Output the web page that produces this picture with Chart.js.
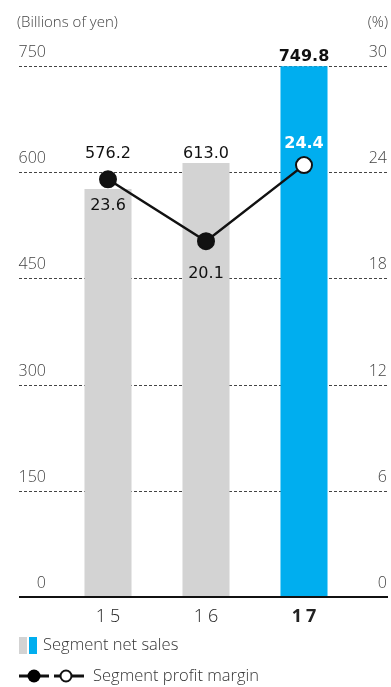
<!DOCTYPE html>
<html>
<head>
<meta charset="utf-8">
<script src="https://cdn.jsdelivr.net/npm/chart.js@4"></script>
<style>
html,body{margin:0;padding:0;background:#fff;}
#wrap{position:relative;width:391px;height:687px;}
</style>
</head>
<body>
<div id="wrap"><canvas id="c" width="391" height="687"></canvas></div>
<script>
const categories = ['15', '16', '17'];
const netSales = [576.2, 613.0, 749.8];
const profitMargin = [23.6, 20.1, 24.4];
const leftTicks = [0, 150, 300, 450, 600, 750];
const rightTicks = [0, 6, 12, 18, 24, 30];
const barColors = ['#d3d3d3', '#d3d3d3', '#00aeef'];
const salesLabels = ['576.2', '613.0', '749.8'];
const marginLabels = ['23.6', '20.1', '24.4'];

const overlay = {
  id: 'overlay',
  beforeDatasetsDraw(chart) {
    const ctx = chart.ctx;
    const yL = chart.scales.y;
    const yR = chart.scales.y2;
    ctx.save();
    ctx.strokeStyle = '#444';
    ctx.lineWidth = 1;
    ctx.setLineDash([3, 2]);
    leftTicks.forEach(v => {
      if (v === 0) return;
      const y = Math.round(yL.getPixelForValue(v)) + 0.5;
      ctx.beginPath();
      ctx.moveTo(19, y);
      ctx.lineTo(388, y);
      ctx.stroke();
    });
    ctx.setLineDash([]);
    ctx.fillStyle = '#444';
    ctx.font = '300 16px "Open Sans"';
    ctx.textBaseline = 'alphabetic';
    ctx.textAlign = 'right';
    leftTicks.forEach(v => {
      const y = yL.getPixelForValue(v);
      ctx.fillText(String(v), 46, y - 9);
    });
    rightTicks.forEach(v => {
      const y = yR.getPixelForValue(v);
      ctx.fillText(String(v), 387, y - 9);
    });
    ctx.font = '300 15px "Open Sans"';
    ctx.textAlign = 'left';
    ctx.fillText('(Billions of yen)', 17, 27);
    ctx.textAlign = 'right';
    ctx.fillText('(%)', 388, 27);
    ctx.restore();
  },
  afterDatasetsDraw(chart) {
    const ctx = chart.ctx;
    const x = chart.scales.x;
    const yL = chart.scales.y;
    const yR = chart.scales.y2;
    ctx.save();
    const by = yL.getPixelForValue(0);
    ctx.strokeStyle = '#111';
    ctx.lineWidth = 2;
    ctx.beginPath();
    ctx.moveTo(19, by);
    ctx.lineTo(388, by);
    ctx.stroke();
    ctx.fillStyle = '#222';
    ctx.textAlign = 'center';
    ctx.textBaseline = 'alphabetic';
    categories.forEach((c, i) => {
      const last = i === categories.length - 1;
      ctx.font = (last ? 'bold ' : '300 ') + '18px "Open Sans"';
      ctx.letterSpacing = '4px';
      ctx.fillText(c, x.getPixelForValue(i) + 2, 622);
    });
    ctx.letterSpacing = '0px';
    netSales.forEach((v, i) => {
      const last = i === netSales.length - 1;
      ctx.font = (last ? 'bold ' : '') + '16px "DejaVu Sans"';
      ctx.fillStyle = '#111';
      let ly = yL.getPixelForValue(v) - 5;
      if (i === 0) ly = yR.getPixelForValue(profitMargin[0]) - 21;
      ctx.fillText(salesLabels[i], x.getPixelForValue(i), ly);
    });
    const mOff = [31, 37, -17];
    profitMargin.forEach((v, i) => {
      const py = yR.getPixelForValue(v);
      const last = i === profitMargin.length - 1;
      ctx.font = (last ? 'bold ' : '') + '16px "DejaVu Sans"';
      ctx.fillStyle = last ? '#fff' : '#111';
      ctx.fillText(marginLabels[i], x.getPixelForValue(i), py + mOff[i]);
    });
    // legend
    ctx.fillStyle = '#d3d3d3';
    ctx.fillRect(19, 637, 8, 17);
    ctx.fillStyle = '#00aeef';
    ctx.fillRect(29, 637, 8, 17);
    ctx.fillStyle = '#333';
    ctx.font = '300 16.5px "Open Sans"';
    ctx.textAlign = 'left';
    ctx.textBaseline = 'middle';
    ctx.fillText('Segment net sales', 43, 645);
    const ly2 = 676;
    ctx.strokeStyle = '#111';
    ctx.lineWidth = 3;
    ctx.beginPath(); ctx.moveTo(19, ly2); ctx.lineTo(49, ly2); ctx.stroke();
    ctx.beginPath(); ctx.moveTo(54, ly2); ctx.lineTo(84, ly2); ctx.stroke();
    ctx.fillStyle = '#000';
    ctx.beginPath(); ctx.arc(34, ly2, 6.5, 0, Math.PI * 2); ctx.fill();
    ctx.fillStyle = '#fff';
    ctx.lineWidth = 2;
    ctx.beginPath(); ctx.arc(66, ly2, 5.5, 0, Math.PI * 2); ctx.fill(); ctx.stroke();
    ctx.fillStyle = '#333';
    ctx.fillText('Segment profit margin', 93, ly2);
    ctx.restore();
  }
};

new Chart(document.getElementById('c'), {
  data: {
    labels: categories,
    datasets: [
      {
        type: 'line',
        data: profitMargin,
        yAxisID: 'y2',
        borderColor: '#111',
        borderWidth: 2.5,
        pointRadius: 8,
        pointBorderWidth: 2,
        pointBorderColor: '#111',
        pointBackgroundColor: ['#111', '#111', '#fff'],
        tension: 0,
        order: 0
      },
      {
        type: 'bar',
        data: netSales,
        yAxisID: 'y',
        backgroundColor: barColors,
        barPercentage: 0.96,
        categoryPercentage: 0.5,
        order: 1
      }
    ]
  },
  options: {
    responsive: false,
    animation: false,
    devicePixelRatio: 1,
    layout: { padding: { left: 59, right: 38, top: 66, bottom: 90 } },
    plugins: { legend: { display: false }, tooltip: { enabled: false } },
    scales: {
      x: { display: false, offset: true },
      y: { display: false, min: 0, max: 750 },
      y2: { display: false, min: 0, max: 30, position: 'right' }
    }
  },
  plugins: [overlay]
});
</script>
</body>
</html>
